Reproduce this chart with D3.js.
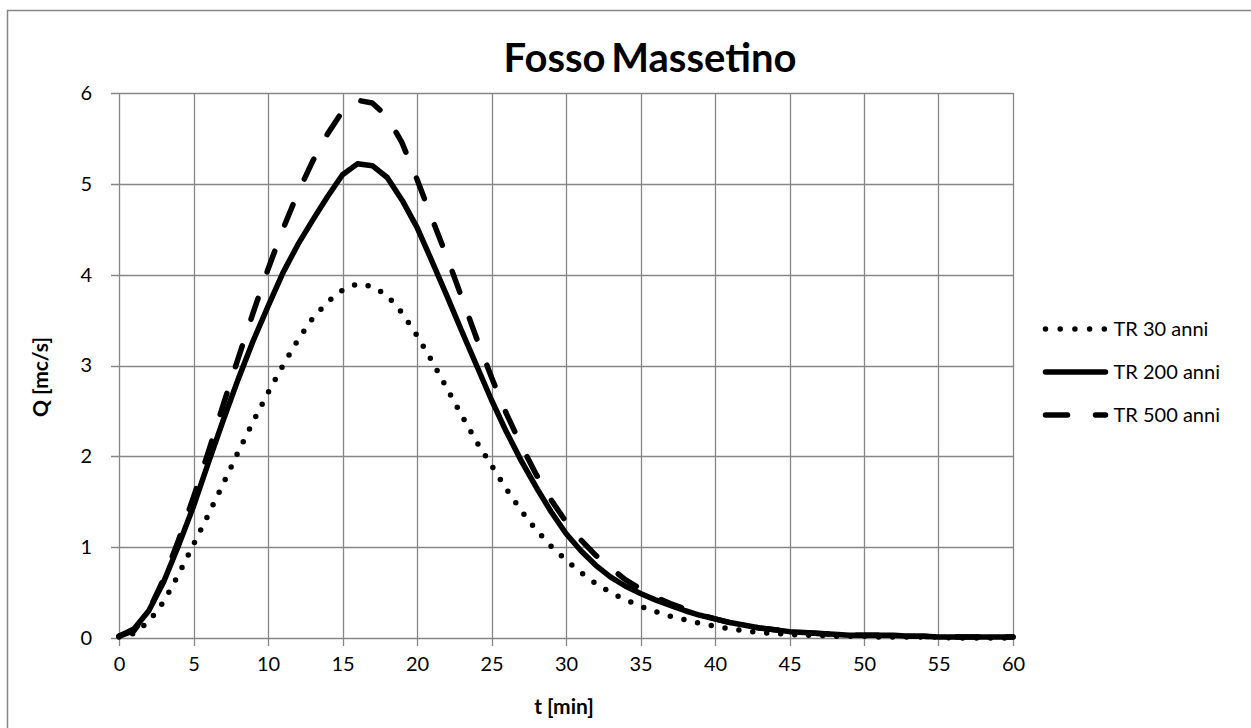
<!DOCTYPE html>
<html>
<head>
<meta charset="utf-8">
<script src="https://cdn.jsdelivr.net/npm/d3@7"></script>
<style>
  body { margin: 0; background: #fff; }
  svg { display: block; font-family: Lato, "Open Sans", sans-serif; }
</style>
</head>
<body>
<div id="chart"></div>
<script>
// minutes, one sample per minute
const minutes = d3.range(0, 61)

const tr30 = [
  0.01, 0.05, 0.18, 0.40, 0.70, 1.03, 1.36, 1.70, 2.05, 2.38,
  2.70, 3.00, 3.28, 3.52, 3.70, 3.83, 3.90, 3.87, 3.77, 3.58,
  3.33, 3.05, 2.75, 2.45, 2.16, 1.90, 1.64, 1.40, 1.19, 1.01,
  0.86, 0.72, 0.60, 0.50, 0.42, 0.35, 0.29, 0.24, 0.20, 0.16,
  0.13, 0.10, 0.08, 0.06, 0.05, 0.04, 0.03, 0.03, 0.02, 0.02,
  0.02, 0.01, 0.01, 0.01, 0.01, 0.01, 0.00, 0.00, 0.00, 0.00, 0.00
]

const tr200 = [
  0.02, 0.10, 0.30, 0.62, 1.02, 1.45, 1.93, 2.40, 2.85, 3.27,
  3.65, 4.02, 4.33, 4.60, 4.86, 5.10, 5.22, 5.20, 5.07, 4.82,
  4.52, 4.15, 3.77, 3.38, 3.00, 2.62, 2.27, 1.95, 1.66, 1.39,
  1.15, 0.96, 0.80, 0.67, 0.57, 0.49, 0.42, 0.36, 0.30, 0.25,
  0.21, 0.17, 0.14, 0.11, 0.09, 0.07, 0.06, 0.05, 0.04, 0.03,
  0.03, 0.03, 0.03, 0.02, 0.02, 0.01, 0.01, 0.01, 0.01, 0.01, 0.01
]

const tr500 = [
  0.02, 0.08, 0.30, 0.65, 1.08, 1.55, 2.05, 2.57, 3.08, 3.58,
  4.06, 4.50, 4.90, 5.25, 5.55, 5.80, 5.92, 5.89, 5.74, 5.45,
  5.05, 4.62, 4.20, 3.75, 3.30, 2.87, 2.47, 2.12, 1.80, 1.52,
  1.28, 1.08, 0.91, 0.77, 0.64, 0.54, 0.45, 0.38, 0.32, 0.26,
  0.21, 0.17, 0.14, 0.11, 0.09, 0.07, 0.06, 0.05, 0.04, 0.03,
  0.03, 0.03, 0.02, 0.02, 0.02, 0.01, 0.01, 0.01, 0.01, 0.01, 0.01
]

const seriesNames = ['TR 30 anni', 'TR 200 anni', 'TR 500 anni']
const xTicks = d3.range(0, 61, 5)
const yTicks = d3.range(0, 7, 1)

const width = 1251
const height = 728
const grid = '#878787'

let svg = d3.select('#chart').append('svg')
  .attr('width', width)
  .attr('height', height)

// chart area border (runs off the right and bottom edge)
svg.append('rect')
  .attr('x', 7.5).attr('y', 10.5)
  .attr('width', 1300).attr('height', 800)
  .attr('fill', 'none')
  .attr('stroke', grid)
  .attr('stroke-width', 1.5)

let x = d3.scaleLinear().domain([0, 60]).range([119, 1013])
let y = d3.scaleLinear().domain([0, 6]).range([638, 93])

// gridlines
svg.append('g')
  .selectAll('line')
  .data(xTicks)
  .join('line')
  .attr('x1', d => Math.round(x(d)) + 0.5).attr('x2', d => Math.round(x(d)) + 0.5)
  .attr('y1', y(6)).attr('y2', y(0) + 8)
  .attr('stroke', grid)
  .attr('stroke-width', 1.3)

svg.append('g')
  .selectAll('line')
  .data(yTicks)
  .join('line')
  .attr('x1', x(0) - 8).attr('x2', x(60))
  .attr('y1', d => Math.round(y(d)) + 0.5).attr('y2', d => Math.round(y(d)) + 0.5)
  .attr('stroke', grid)
  .attr('stroke-width', 1.3)

// axes (labels only, lines drawn as grid above)
let xAxis = svg.append('g')
  .attr('transform', `translate(0,${y(0) + 16})`)
  .call(d3.axisBottom(x).tickValues(xTicks).tickSize(0).tickFormat(d3.format('d')))
xAxis.select('.domain').remove()
xAxis.selectAll('text')
  .attr('font-family', 'Lato, sans-serif')
  .attr('font-size', 20)
  .attr('fill', '#000')
  .attr('dy', '0.71em')

let yAxis = svg.append('g')
  .attr('transform', `translate(${x(0) - 24},0)`)
  .call(d3.axisLeft(y).tickValues(yTicks).tickSize(0).tickFormat(d3.format('d')))
yAxis.select('.domain').remove()
yAxis.selectAll('text')
  .attr('font-family', 'Lato, sans-serif')
  .attr('font-size', 20)
  .attr('fill', '#000')

// titles
svg.append('text')
  .attr('x', 650).attr('y', 72)
  .attr('text-anchor', 'middle')
  .attr('font-weight', 'bold')
  .attr('font-size', 40)
  .attr('word-spacing', -4)
  .text('Fosso Massetino')

svg.append('text')
  .attr('x', 564).attr('y', 714)
  .attr('text-anchor', 'middle')
  .attr('font-weight', 'bold')
  .attr('font-size', 21)
  .text('t [min]')

svg.append('text')
  .attr('transform', 'translate(48,377) rotate(-90)')
  .attr('text-anchor', 'middle')
  .attr('font-weight', 'bold')
  .attr('font-size', 21)
  .text('Q [mc/s]')

// series
const styles = [
  { dash: '0 14', width: 5.5 },
  { dash: null, width: 5.5 },
  { dash: '22 28', width: 5.5 }
]
const values = [tr30, tr200, tr500]

let line = d3.line()
  .x((d, i) => x(minutes[i]))
  .y(d => y(d))

let plot = svg.append('g')
values.forEach((v, k) => {
  plot.append('path')
    .datum(v)
    .attr('d', line)
    .attr('fill', 'none')
    .attr('stroke', '#000')
    .attr('stroke-width', styles[k].width)
    .attr('stroke-linecap', 'round')
    .attr('stroke-linejoin', 'round')
    .attr('stroke-dasharray', styles[k].dash)
})

// legend
let legend = svg.append('g')
  .selectAll('g')
  .data(seriesNames)
  .join('g')
  .attr('transform', (d, i) => `translate(1045.5,${329 + i * 43})`)

legend.append('line')
  .attr('x1', 0).attr('x2', 60)
  .attr('stroke', '#000')
  .attr('stroke-width', (d, i) => styles[i].width)
  .attr('stroke-linecap', 'round')
  .attr('stroke-dasharray', (d, i) => i === 0 ? '0 14.7' : styles[i].dash)

legend.append('text')
  .attr('x', 68).attr('dy', '0.35em')
  .attr('font-size', 20)
  .text(d => d)
</script>
</body>
</html>
